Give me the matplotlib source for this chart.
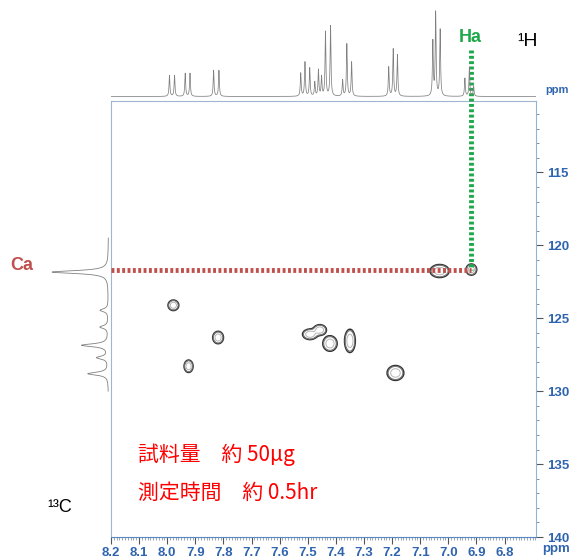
import numpy as np
import matplotlib.pyplot as plt
from matplotlib.ticker import MultipleLocator

# --- 1H projection: peak positions (ppm) and heights ---
h_ppm = [7.992, 7.974, 7.936, 7.919, 7.835, 7.816, 7.525, 7.510, 7.493, 7.475,
         7.462, 7.451, 7.437, 7.419, 7.376, 7.361, 7.344, 7.212, 7.196, 7.181,
         7.055, 7.045, 7.029, 6.941, 6.925, 6.910]
h_int = [21, 21, 23, 23, 26, 26, 23, 34, 28, 14,
         26, 19, 64, 70, 16, 52, 34, 29, 47, 41,
         54, 83, 66, 18, 29, 10]

# --- 13C projection: peak positions (ppm) and heights ---
c_ppm = [121.83, 124.45, 125.6, 126.85, 127.7, 128.8]
c_int = [55, 8, 8, 26, 11, 20]

# --- HSQC cross peaks: 1H ppm, 13C ppm, half sizes (ppm) ---
cross_h = [7.978, 7.819, 7.924, 7.492, 7.457, 7.421, 7.350, 7.188, 7.031, 6.918]
cross_c = [124.11, 126.32, 128.29, 126.10, 125.80, 126.73, 126.55, 128.75, 121.76, 121.66]
cross_dh = [0.018, 0.018, 0.015, 0.025, 0.022, 0.024, 0.018, 0.028, 0.032, 0.018]
cross_dc = [0.34, 0.40, 0.40, 0.34, 0.34, 0.50, 0.75, 0.48, 0.42, 0.36]

ha_ppm, ca_ppm = 6.918, 121.7

blue = '#2f64ae'
W, H = 569, 560
fig = plt.figure(figsize=(W / 100, H / 100), dpi=100)

def box(x0, y0, x1, y1):
    return [x0 / W, 1 - y1 / H, (x1 - x0) / W, (y1 - y0) / H]

ax = fig.add_axes(box(111, 101, 536, 537))
ax.set_xlim(8.2, 6.688)
ax.set_ylim(140, 110.1)

# cross peak contours
gx = np.linspace(8.2, 6.688, 900)
gy = np.linspace(110.1, 140, 700)
X, Y = np.meshgrid(gx, gy)
Z = np.zeros_like(X)
for h, c, dh, dc in zip(cross_h, cross_c, cross_dh, cross_dc):
    sh, sc = dh / 1.8, dc / 1.8
    Z += np.exp(-0.5 * (((X - h) / sh) ** 2 + ((Y - c) / sc) ** 2))
ax.contour(X, Y, Z, levels=[0.16, 0.24, 0.55],
           colors=['#333333', '#777777', '#b5b5b5'], linewidths=[1.1, 0.8, 0.7])

# Ha / Ca guide lines
ax.plot([ha_ppm, ha_ppm], [106.6, ca_ppm], color='#1ea84b', lw=3.5,
        linestyle=(0, (0.6, 0.5)), clip_on=False, zorder=5)
ax.plot([8.2, ha_ppm], [ca_ppm, ca_ppm], color='#c0504d', lw=3.5,
        linestyle=(0, (0.6, 0.5)), clip_on=False, zorder=5)

# axes styling
for s in ['left', 'top']:
    ax.spines[s].set_color('#9fb6cf')
ax.spines['bottom'].set_color('#5b87c0')
ax.spines['right'].set_color('#8fb4d6')
ax.yaxis.tick_right()
ax.xaxis.set_minor_locator(MultipleLocator(0.01))
ax.yaxis.set_minor_locator(MultipleLocator(1))
xt = [8.2, 8.1, 8.0, 7.9, 7.8, 7.7, 7.6, 7.5, 7.4, 7.3, 7.2, 7.1, 7.0, 6.9, 6.8]
ax.set_xticks(xt)
ax.set_xticklabels(['%.1f' % v for v in xt], color=blue, fontweight='bold',
                   fontsize=9.5, family='Liberation Sans')
yt = [115, 120, 125, 130, 135, 140]
ax.set_yticks(yt)
ax.set_yticklabels([str(v) for v in yt], color=blue, fontweight='bold',
                   fontsize=9.5, family='Liberation Sans')
ax.tick_params(axis='x', which='major', length=5, color='#555555', pad=2)
ax.tick_params(axis='x', which='minor', length=2, color='#8899aa')
ax.tick_params(axis='y', which='major', length=5, color='#555555', pad=3)
ax.tick_params(axis='y', which='minor', length=2.5, color='#777777')

# top 1H projection
axt = fig.add_axes(box(111, 8, 536, 98))
hx = np.linspace(8.2, 6.688, 6000)
spec = np.zeros_like(hx)
for p, a in zip(h_ppm, h_int):
    w = 0.0018
    spec += a * w ** 2 / ((hx - p) ** 2 + w ** 2)
axt.plot(hx, spec, color='#808080', lw=0.55)
axt.set_xlim(8.2, 6.688)
axt.set_ylim(-1.5, 88)
axt.axis('off')

# left 13C projection
axl = fig.add_axes(box(45, 101, 110, 537))
cy = np.linspace(119.5, 130.0, 2000)
cspec = np.zeros_like(cy)
for p, a in zip(c_ppm, c_int):
    w = 0.12
    cspec += a * w ** 2 / ((cy - p) ** 2 + w ** 2)
axl.plot(cspec, cy, color='#808080', lw=0.6)
axl.set_ylim(140, 110.1)
axl.set_xlim(62, -1.5)
axl.axis('off')

# labels
def ftext(x, y, s, **kw):
    fig.text(x / W, 1 - y / H, s, **kw)

ftext(470, 38, 'Ha', color='#1ea84b', fontsize=13, fontweight='bold',
      ha='center', va='center', family='Liberation Sans')
ftext(517, 41, '¹H', color='black', fontsize=14, ha='left', va='center',
      family='Liberation Sans')
ftext(545, 90, 'ppm', color=blue, fontsize=8, fontweight='bold',
      ha='left', va='center', family='Liberation Sans')
ftext(542, 549, 'ppm', color=blue, fontsize=9.5, fontweight='bold',
      ha='left', va='center', family='Liberation Sans')
ftext(10, 265, 'Ca', color='#c0504d', fontsize=13, fontweight='bold',
      ha='left', va='center', family='Liberation Sans')
ftext(47, 508, '¹³C', color='black', fontsize=13, ha='left', va='center',
      family='Liberation Sans')
ftext(138, 455, '試料量\u3000約 50μg', color='#ff0000', fontsize=15,
      ha='left', va='center', family=['Noto Sans CJK JP', 'DejaVu Sans'])
ftext(138, 493, '測定時間\u3000約 0.5hr', color='#ff0000', fontsize=15,
      ha='left', va='center', family=['Noto Sans CJK JP', 'DejaVu Sans'])

fig.savefig('out.png', dpi=100)
